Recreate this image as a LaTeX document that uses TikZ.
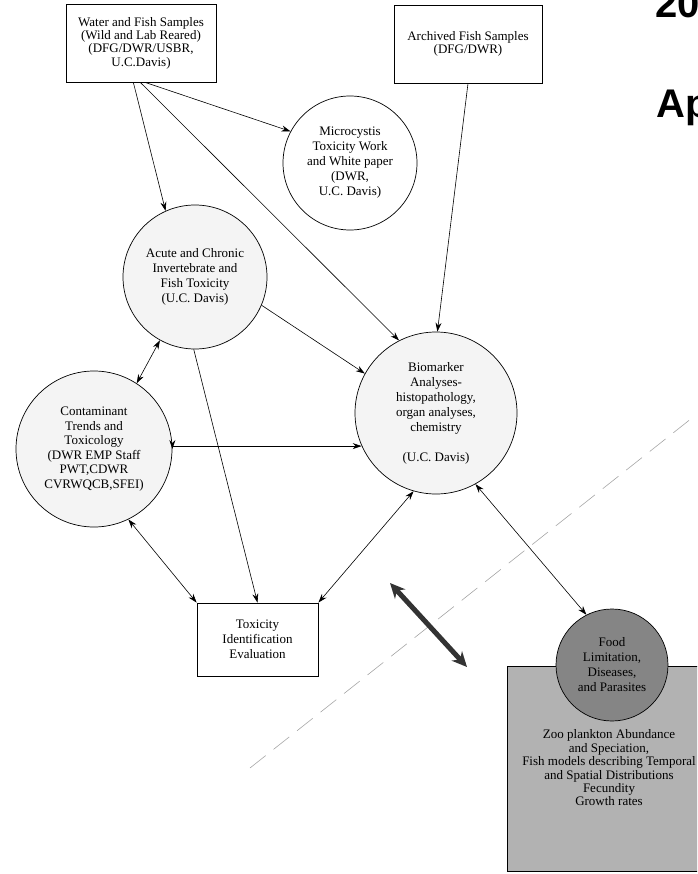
\documentclass[tikz,border=0pt]{standalone}
\usepackage{fontspec}
\setmainfont{Liberation Serif}
\newfontfamily\headsans{Liberation Sans}
\usetikzlibrary{arrows.meta}
\begin{document}
\begin{tikzpicture}[x=1pt,y=-1pt,
  every node/.style={font=\fontsize{13}{15}\selectfont, align=center},
  rbox/.style={draw, line width=0.8pt, inner sep=0pt},
  circ/.style={draw, circle, line width=0.7pt, inner sep=0pt},
  stip/.style={fill=gray!9},
  conn/.style={line width=0.6pt, -{Stealth[length=9pt,width=6pt]}},
  dconn/.style={line width=0.6pt, {Stealth[length=9pt,width=6pt]}-{Stealth[length=9pt,width=6pt]}},
  bigarrow/.style={line width=5pt, draw=black!80, {Stealth[length=15pt,width=14pt]}-{Stealth[length=15pt,width=14pt]}},
  divider/.style={draw=gray!70, line width=0.6pt, dash pattern=on 20pt off 10pt},
  heading/.style={font=\headsans\bfseries\fontsize{40}{44}\selectfont, inner sep=0pt, anchor=base west}
]
\useasboundingbox (0,0) rectangle (697,874);
\clip (0,0) rectangle (697,874);

% cut-off heading text at the right edge
\node[heading] (t20) at (655.5,18) {20};
\node[heading] (tAp) at (656,118) {Ap};

% boxes
\node[rbox, minimum width=150pt, minimum height=78pt, font=\fontsize{13}{13.4}\selectfont] (box1) at (141,43)
  {Water and Fish Samples\\(Wild and Lab Reared)\\(DFG/DWR/USBR,\\U.C.Davis)};
\node[rbox, minimum width=148pt, minimum height=78pt, font=\fontsize{13}{13.4}\selectfont] (box2) at (468,44)
  {Archived Fish Samples\\(DFG/DWR)};
\node[rbox, minimum width=121pt, minimum height=73pt] (tie) at (257.5,639.5)
  {Toxicity\\Identification\\Evaluation};

% circles
\node[circ, minimum size=134pt] (mic) at (350,163)
  {Microcystis\\Toxicity Work\\and White paper\\(DWR,\\U.C. Davis)};
\node[circ, stip, minimum size=144pt] (acute) at (195,277)
  {Acute and Chronic\\Invertebrate and\\Fish Toxicity\\(U.C. Davis)};
\node[circ, stip, minimum size=156pt, font=\fontsize{13}{14.5}\selectfont] (contam) at (94,449)
  {Contaminant\\Trends and\\Toxicology\\(DWR EMP Staff\\PWT,CDWR\\CVRWQCB,SFEI)};
\node[circ, stip, minimum size=162pt] (bio) at (436,413)
  {Biomarker\\Analyses-\\histopathology,\\organ analyses,\\chemistry\\[15pt](U.C. Davis)};

% lower right region
\node[draw, line width=0.8pt, fill=black!30, minimum width=200pt, minimum height=205pt, inner sep=0pt, anchor=north west] (fbox) at (507,666) {};
\node[font=\fontsize{13}{13.4}\selectfont] (ftext) at (609,768)
  {Zoo plankton Abundance\\and Speciation,\\Fish models describing Temporal\\and Spatial Distributions\\Fecundity\\Growth rates};
\node[circ, fill=black!48, minimum size=112pt, font=\fontsize{13}{15}\selectfont] (food) at (612,665)
  {Food\\Limitation,\\Diseases,\\and Parasites};

% divider and big arrow
\coordinate (d1) at (250,768);
\coordinate (d2) at (692,418);
\draw[divider] (d1) -- (d2);
\coordinate (ba1) at (390,583);
\coordinate (ba2) at (467,667);
\draw[bigarrow] (ba1) -- (ba2);

% connectors
\draw[conn] (box1.-84) -- (mic.152);
\draw[conn] (box1.-101) -- (acute.114);
\draw[conn] (box1.-91) -- (bio.117);
\draw[conn] (box2.south) -- (bio.89);
\draw[conn] (acute.-23) -- (bio.151);
\draw[conn] (acute.269) -- (tie.north);
\draw[dconn] (acute.241) -- (contam.57);
\draw[dconn] (contam.0) -- (bio.204 -| contam.0) -- (bio.204);
\draw[dconn] (contam.-64) -- (tie.north west);
\draw[dconn] (bio.254) -- (tie.north east);
\draw[dconn] (bio.-61) -- (food.117);
\end{tikzpicture}
\end{document}
